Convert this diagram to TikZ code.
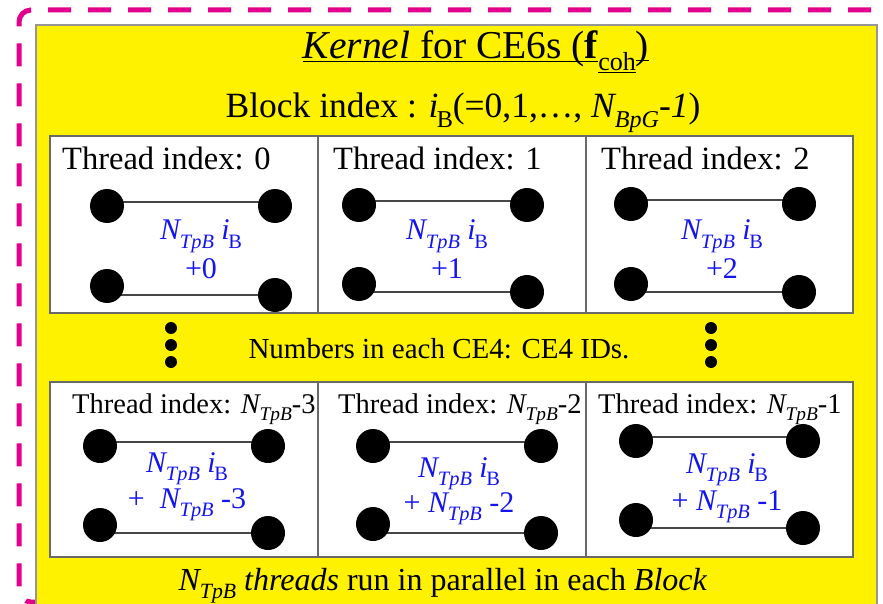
\documentclass[tikz,border=0pt]{standalone}
\usepackage{fontspec}
\setmainfont{Liberation Serif}
\definecolor{dashpink}{RGB}{226,0,140}
\definecolor{framegray}{RGB}{150,150,150}
\definecolor{cellgray}{RGB}{105,105,105}
\definecolor{wiregray}{RGB}{70,70,70}
\definecolor{idblue}{RGB}{20,20,240}
% lowered, reduced text used for subscripts
\newcommand\lsub[1]{\kern-0.05em\raisebox{-0.27em}{\scalebox{0.68}{#1}}}
\newcommand\NTpB{\textit{N}\lsub{\textit{TpB}}}
\newcommand\iB{\textit{i}\lsub{B}}
\newcommand\fsz[1]{\fontsize{#1}{#1}\selectfont}
\tikzset{
  cellbox/.style={draw=cellgray, line width=1.4pt, fill=white, inner sep=0pt, outer sep=0pt, anchor=north west},
  ball/.style={circle, fill=black, inner sep=0pt, minimum size=34pt},
  pip/.style={circle, fill=black, inner sep=0pt, minimum size=12pt},
  wire/.style={draw=wiregray, line width=2.2pt},
  toplabel/.style={anchor=base west, inner sep=0pt, font=\fsz{32.5}},
  botlabel/.style={anchor=base west, inner sep=0pt, font=\fsz{28.5}},
  idtext/.style={anchor=base, inner sep=0pt, text=idblue, font=\fsz{30}},
  plain/.style={anchor=base, inner sep=0pt}
}
\begin{document}
\begin{tikzpicture}[x=1pt,y=-1pt]
\useasboundingbox (0,0) rectangle (883,604);
\clip (0,0) rectangle (883,604);

% outer dashed frame (its right and lower sides run off the sheet)
\draw[dashpink, line width=5pt, dash pattern=on 23pt off 17pt, dash phase=-19pt, rounded corners=12pt]
  (930,10) -- (19,10) -- (19,602) -- (60,602);

% yellow kernel panel
\fill[yellow] (36,25) rectangle (877,640);
\draw[framegray, line width=1.2pt] (36,640) -- (36,25) -- (877,25) -- (877,640);

% headings
\node[plain, font=\fsz{39.5}] (title) at (476,59)
  {\underline{\textit{Kernel} for CE6s \smash{(}\textbf{f}}\raisebox{-0.3em}{\underline{\scalebox{0.66}{coh}}}\underline{\smash{)}}};
\node[plain, font=\fsz{35.5}] (blockidx) at (463,118)
  {Block index : \iB(=0,1,\ldots, \textit{N}\lsub{\textit{BpG}}-\textit{1})};

% thread cells, upper row
\node[cellbox, minimum width=268pt, minimum height=177pt] (c1) at (50,136) {};
\node[cellbox, minimum width=268pt, minimum height=177pt] (c2) at (318,136) {};
\node[cellbox, minimum width=267pt, minimum height=177pt] (c3) at (586,136) {};
% thread cells, lower row
\node[cellbox, minimum width=268pt, minimum height=175pt] (c4) at (50,382) {};
\node[cellbox, minimum width=268pt, minimum height=175pt] (c5) at (318,382) {};
\node[cellbox, minimum width=267pt, minimum height=175pt] (c6) at (586,382) {};

\node[toplabel] (l1) at (62,170) {Thread index: 0};
\node[toplabel] (l2) at (333,170) {Thread index: 1};
\node[toplabel] (l3) at (601,170) {Thread index: 2};
\node[botlabel] (l4) at (72,413) {Thread index: \NTpB-3};
\node[botlabel] (l5) at (338,413) {Thread index: \NTpB-2};
\node[botlabel] (l6) at (598,413) {Thread index: \NTpB-1};

% CE4 pairs in every cell
\foreach \n/\xl/\xr/\yt/\ybl/\ybr in {
    a/107/275/206/286/295,
    b/359/527/205/284/292,
    c/631/799/204/284/292,
    d/100/268/446/525/533,
    e/373/541/446/524/533,
    f/636/803/441/520/528}{
  \coordinate (\n tl) at (\xl,\yt);
  \coordinate (\n tr) at (\xr,\yt);
  \coordinate (\n bl) at (\xl,\ybl);
  \coordinate (\n br) at (\xr,\ybr);
  \draw[wire] ([yshift=4pt]\n tl) -- ([yshift=4pt]\n tr);
  \draw[wire] (\n br -| \n bl) -- (\n br);
  \node[ball] at (\n tl) {};
  \node[ball] at (\n tr) {};
  \node[ball] at (\n bl) {};
  \node[ball] at (\n br) {};
}

% CE4 IDs
\node[idtext] (ida1) at (201,240) {\NTpB\ \iB};
\node[idtext] (ida2) at (201,278) {+0};
\node[idtext] (idb1) at (447,240) {\NTpB\ \iB};
\node[idtext] (idb2) at (447,278) {+1};
\node[idtext] (idc1) at (722,240) {\NTpB\ \iB};
\node[idtext] (idc2) at (722,278) {+2};
\node[idtext] (idd1) at (187,472) {\NTpB\ \iB};
\node[idtext] (idd2) at (187,508) {+\ \ \NTpB\ -3};
\node[idtext] (ide1) at (459,477) {\NTpB\ \iB};
\node[idtext] (ide2) at (459,512) {+ \NTpB\ -2};
\node[idtext] (idf1) at (727,473) {\NTpB\ \iB};
\node[idtext] (idf2) at (727,510) {+ \NTpB\ -1};

% vertical ellipses between the rows
\foreach \y [count=\k] in {328,345,362}{
  \node[pip] (pl\k) at (171,\y) {};
  \node[pip] (pr\k) at (711,\y) {};
}
\node[plain, font=\fsz{29}] (note) at (439,358) {Numbers in each CE4: CE4 IDs.};

% footer
\node[plain, font=\fsz{32}] (foot) at (443,590)
  {\NTpB\ \textit{threads} run in parallel in each \textit{Block}};
\end{tikzpicture}
\end{document}
